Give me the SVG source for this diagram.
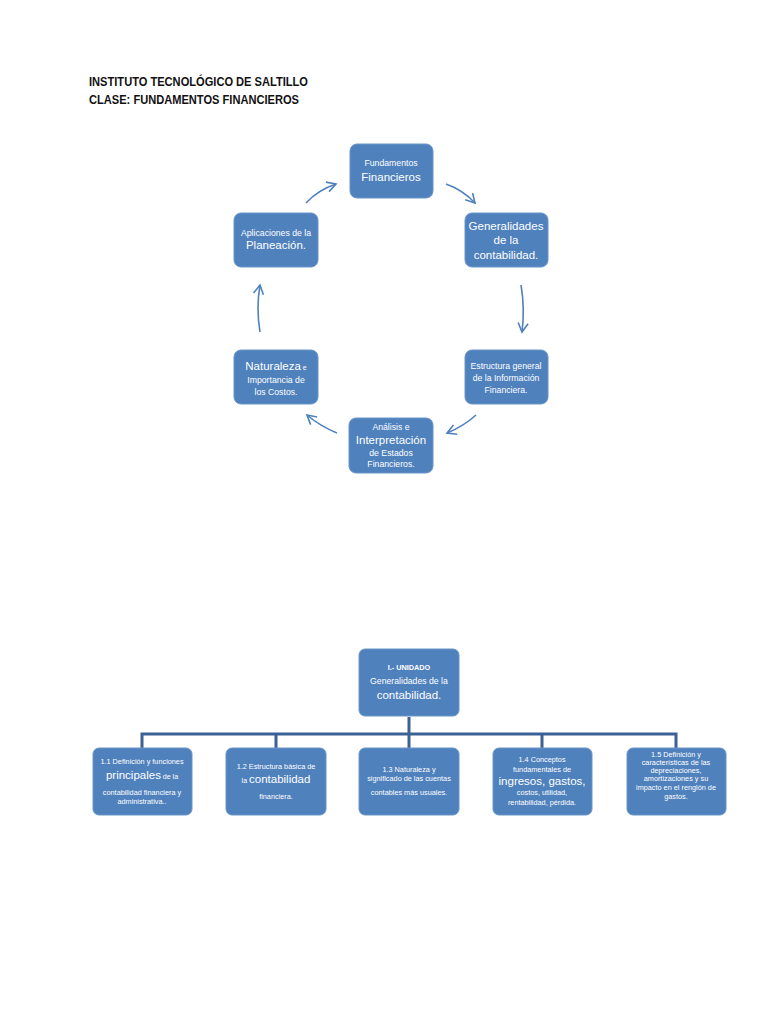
<svg xmlns="http://www.w3.org/2000/svg" width="768" height="1024" viewBox="0 0 768 1024">
<defs>
<marker id="arr" markerUnits="userSpaceOnUse" markerWidth="14" markerHeight="14" refX="10" refY="6" orient="auto">
<path d="M1,1 L10,6 L1,11" fill="none" stroke="#4f81bd" stroke-width="1.6"/>
</marker>
</defs>
<style>
.box{fill:#4f81bd;stroke:#6a95c8;stroke-width:1}
.t{fill:#fff;font-family:"Liberation Sans",Arial,sans-serif;text-anchor:middle}
.s{font-size:8.7px}
.xs{font-size:7.3px}
.m{font-size:11.5px}
.c{fill:none;stroke:#4f81bd;stroke-width:1.6}
.tree{fill:none;stroke:#3a6294;stroke-width:3}
.title{font-family:"Liberation Sans",Arial,sans-serif;font-weight:bold;font-size:13px;fill:#111}
</style>
<rect width="768" height="1024" fill="#fff"/>
<text class="title" x="89" y="86" textLength="219" lengthAdjust="spacingAndGlyphs">INSTITUTO TECNOLÓGICO DE SALTILLO</text>
<text class="title" x="89" y="104" textLength="210" lengthAdjust="spacingAndGlyphs">CLASE: FUNDAMENTOS FINANCIEROS</text>

<g id="connectors">
<path class="c" d="M306,203 Q318,190 336,184" marker-end="url(#arr)"/>
<path class="c" d="M446,184 Q463,190 475,203" marker-end="url(#arr)"/>
<path class="c" d="M521,285 Q525,308 522,332" marker-end="url(#arr)"/>
<path class="c" d="M476,415 Q464,426 447,433" marker-end="url(#arr)"/>
<path class="c" d="M337,433 Q320,426 307,415" marker-end="url(#arr)"/>
<path class="c" d="M260,332 Q256,308 260,285" marker-end="url(#arr)"/>
<path class="tree" d="M409,717 V734 M142,734 H676 M142,732.5 V748 M276,734 V748 M409,734 V748 M542,734 V748 M676,732.5 V748"/>
</g>

<g id="n-fundamentos">
<rect class="box" x="350" y="144" width="83" height="54" rx="7"/>
<text class="t s" x="391" y="166">Fundamentos</text>
<text class="t m" x="391" y="181">Financieros</text>
</g>
<g id="n-generalidades">
<rect class="box" x="465" y="213" width="83" height="54" rx="7"/>
<text class="t m" x="506" y="230">Generalidades</text>
<text class="t m" x="506" y="244">de la</text>
<text class="t m" x="506" y="259">contabilidad.</text>
</g>
<g id="n-estructura">
<rect class="box" x="465" y="350" width="83" height="54" rx="7"/>
<text class="t s" x="506" y="369">Estructura general</text>
<text class="t s" x="506" y="381">de la Información</text>
<text class="t s" x="506" y="393">Financiera.</text>
</g>
<g id="n-analisis">
<rect class="box" x="349" y="418" width="84" height="55" rx="7"/>
<text class="t s" x="391" y="430">Análisis e</text>
<text class="t m" x="391" y="444">Interpretación</text>
<text class="t s" x="391" y="456">de Estados</text>
<text class="t s" x="391" y="467">Financieros.</text>
</g>
<g id="n-naturaleza">
<rect class="box" x="234" y="350" width="84" height="54" rx="7"/>
<text class="t" x="276" y="370"><tspan font-size="11.5">Naturaleza</tspan><tspan font-size="7"> e</tspan></text>
<text class="t s" x="276" y="383">Importancia de</text>
<text class="t s" x="276" y="395">los Costos.</text>
</g>
<g id="n-aplicaciones">
<rect class="box" x="234" y="213" width="84" height="54" rx="7"/>
<text class="t s" x="276" y="236">Aplicaciones de la</text>
<text class="t m" x="276" y="249">Planeación.</text>
</g>

<g id="n-unidad">
<rect class="box" x="359" y="649" width="100" height="67" rx="6"/>
<text class="t xs" x="409" y="670" font-weight="bold">I.- UNIDADO</text>
<text class="t s" x="409" y="684">Generalidades de la</text>
<text class="t m" x="409" y="699">contabilidad.</text>
</g>
<g id="n-1-1">
<rect class="box" x="93" y="748" width="99" height="67" rx="6"/>
<text class="t xs" x="142" y="764">1.1 Definición y funciones</text>
<text class="t" x="142" y="779"><tspan font-size="11.5">principales</tspan><tspan font-size="7"> de la</tspan></text>
<text class="t xs" x="142" y="795">contabilidad financiera y</text>
<text class="t xs" x="142" y="804">administrativa..</text>
</g>
<g id="n-1-2">
<rect class="box" x="226" y="748" width="100" height="67" rx="6"/>
<text class="t xs" x="276" y="769">1.2 Estructura básica de</text>
<text class="t" x="276" y="783"><tspan font-size="7">la </tspan><tspan font-size="11.5">contabilidad</tspan></text>
<text class="t xs" x="276" y="799">financiera.</text>
</g>
<g id="n-1-3">
<rect class="box" x="359" y="748" width="100" height="67" rx="6"/>
<text class="t xs" x="409" y="772">1.3 Naturaleza y</text>
<text class="t xs" x="409" y="781">significado de las cuentas</text>
<text class="t xs" x="409" y="795">contables más usuales.</text>
</g>
<g id="n-1-4">
<rect class="box" x="493" y="748" width="99" height="67" rx="6"/>
<text class="t xs" x="542" y="762">1.4 Conceptos</text>
<text class="t xs" x="542" y="772">fundamentales de</text>
<text class="t m" x="542" y="785">ingresos, gastos,</text>
<text class="t xs" x="542" y="795">costos, utilidad,</text>
<text class="t xs" x="542" y="805">rentabilidad, pérdida.</text>
</g>
<g id="n-1-5">
<rect class="box" x="627" y="748" width="99" height="67" rx="6"/>
<text class="t xs" x="676" y="757">1.5 Definición y</text>
<text class="t xs" x="676" y="765">características de las</text>
<text class="t xs" x="676" y="773">depreciaciones,</text>
<text class="t xs" x="676" y="781">amortizaciones y su</text>
<text class="t xs" x="676" y="790">impacto en el renglón de</text>
<text class="t xs" x="676" y="799">gastos.</text>
</g>
</svg>
